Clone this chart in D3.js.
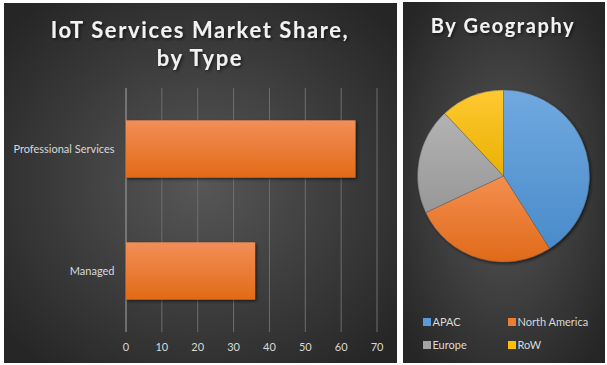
<!DOCTYPE html>
<html lang="en">
<head>
    <meta charset="UTF-8">
    <title>IoT Services Market Share</title>
    <script src="https://d3js.org/d3.v7.min.js"></script>
    <style>
        body {
            margin: 0;
            padding: 0;
            background: #ffffff;
            font-family: Lato, "Open Sans", sans-serif;
        }
        svg { display: block; }
        .tick text { fill: #d9d9d9; font-size: 11px; font-family: Lato, "Open Sans", sans-serif; }
        .title { fill: #f2f2f2; font-weight: bold; letter-spacing: 1.6px; }
        .legend text { fill: #d9d9d9; font-size: 11px; }
    </style>
</head>
<body>
    <svg id="chart" width="607" height="365"></svg>

    <script>
        // Bar chart data (share by type, %)
        const types = ['Professional Services', 'Managed'];
        const typeShare = [64, 36];
        const xTicks = [0, 10, 20, 30, 40, 50, 60, 70];

        // Pie chart data (share by geography, %)
        const regions = ['APAC', 'North America', 'Europe', 'RoW'];
        const regionShare = [41, 27, 20, 12];
        const regionColors = ['#5b9bd5', '#ed7d31', '#a5a5a5', '#ffc000'];

        const svg = d3.select('#chart');
        const defs = svg.append('defs');

        // panel background
        const bg = defs.append('radialGradient').attr('id', 'panelBg')
            .attr('cx', '50%').attr('cy', '50%').attr('r', '65%');
        bg.append('stop').attr('offset', '0%').attr('stop-color', '#575757');
        bg.append('stop').attr('offset', '100%').attr('stop-color', '#262626');

        const shadow = defs.append('filter').attr('id', 'shadow')
            .attr('x', '-10%').attr('y', '-10%').attr('width', '130%').attr('height', '130%');
        shadow.append('feDropShadow').attr('dx', 1.5).attr('dy', 1.5)
            .attr('stdDeviation', 1.5).attr('flood-color', '#000').attr('flood-opacity', 0.6);

        function vGrad(id, top, bottom) {
            const g = defs.append('linearGradient').attr('id', id)
                .attr('x1', 0).attr('y1', 0).attr('x2', 0).attr('y2', 1);
            g.append('stop').attr('offset', '0%').attr('stop-color', top);
            g.append('stop').attr('offset', '100%').attr('stop-color', bottom);
        }
        vGrad('barFill', '#f28e57', '#e26a17');
        const sliceGrads = [['#70a9df', '#4a8bcb'], ['#f48f4f', '#e06a1a'], ['#b3b3b3', '#979797'], ['#ffc933', '#eab000']];
        sliceGrads.forEach((c, i) => vGrad('slice' + i, c[0], c[1]));

        // ---------- left panel: bar chart ----------
        const left = { x: 4, y: 3, w: 393, h: 360 };
        svg.append('rect')
            .attr('x', left.x).attr('y', left.y)
            .attr('width', left.w).attr('height', left.h)
            .attr('fill', 'url(#panelBg)');

        svg.append('text').attr('class', 'title')
            .attr('x', 200).attr('text-anchor', 'middle')
            .attr('font-size', 22).attr('filter', 'url(#shadow)')
            .selectAll('tspan')
            .data(['IoT Services Market Share,', 'by Type'])
            .enter().append('tspan')
            .attr('x', 200)
            .attr('y', (d, i) => 38 + i * 28)
            .text(d => d);

        const plot = { left: 125.5, right: 376.5, top: 88, bottom: 332 };

        const x = d3.scaleLinear().domain([0, 70]).range([plot.left, plot.right]);
        const y = d3.scaleBand().domain(types)
            .range([plot.top, plot.bottom])
            .paddingInner(0.53).paddingOuter(0.265);

        const xAxis = svg.append('g')
            .attr('transform', `translate(0,${plot.bottom})`)
            .call(d3.axisBottom(x).tickValues(xTicks)
                .tickSize(-(plot.bottom - plot.top)).tickPadding(11));
        xAxis.select('.domain').remove();
        xAxis.selectAll('.tick line')
            .attr('stroke', d => d === 0 ? '#a6a6a6' : '#6e6e6e')
            .attr('stroke-width', 1);

        const yAxis = svg.append('g')
            .attr('transform', `translate(${plot.left},0)`)
            .call(d3.axisLeft(y).tickSize(0).tickPadding(11));
        yAxis.select('.domain').remove();

        svg.append('g').selectAll('rect')
            .data(types)
            .enter().append('rect')
            .attr('x', x(0) + 0.5)
            .attr('y', d => y(d))
            .attr('width', (d, i) => x(typeShare[i]) - x(0))
            .attr('height', y.bandwidth())
            .attr('fill', 'url(#barFill)')
            .attr('filter', 'url(#shadow)');

        // ---------- right panel: pie chart ----------
        const right = { x: 403, y: 2, w: 202, h: 361 };
        svg.append('rect')
            .attr('x', right.x).attr('y', right.y)
            .attr('width', right.w).attr('height', right.h)
            .attr('fill', 'url(#panelBg)');

        svg.append('text').attr('class', 'title')
            .attr('x', 503).attr('y', 33)
            .attr('text-anchor', 'middle')
            .attr('font-size', 20).attr('filter', 'url(#shadow)')
            .text('By Geography');

        const pieData = regions.map((r, i) => ({ region: r, value: regionShare[i] }));
        const pie = d3.pie().value(d => d.value).sort(null);
        const arc = d3.arc().innerRadius(0).outerRadius(86);

        svg.append('g')
            .attr('transform', 'translate(503.5,176)')
            .attr('filter', 'url(#shadow)')
            .selectAll('path')
            .data(pie(pieData))
            .enter().append('path')
            .attr('d', arc)
            .attr('fill', (d, i) => `url(#slice${i})`)
            .attr('stroke', '#555')
            .attr('stroke-width', 0.4);

        const legend = svg.append('g').attr('class', 'legend')
            .selectAll('g')
            .data(regions)
            .enter().append('g')
            .attr('transform', (d, i) => `translate(${i % 2 ? 508 : 423},${i < 2 ? 322 : 345})`);
        legend.append('rect')
            .attr('x', 0).attr('y', -4)
            .attr('width', 8).attr('height', 8)
            .attr('fill', (d, i) => regionColors[i]);
        legend.append('text')
            .attr('x', 9.5).attr('y', 4)
            .text(d => d);
    </script>
</body>
</html>
